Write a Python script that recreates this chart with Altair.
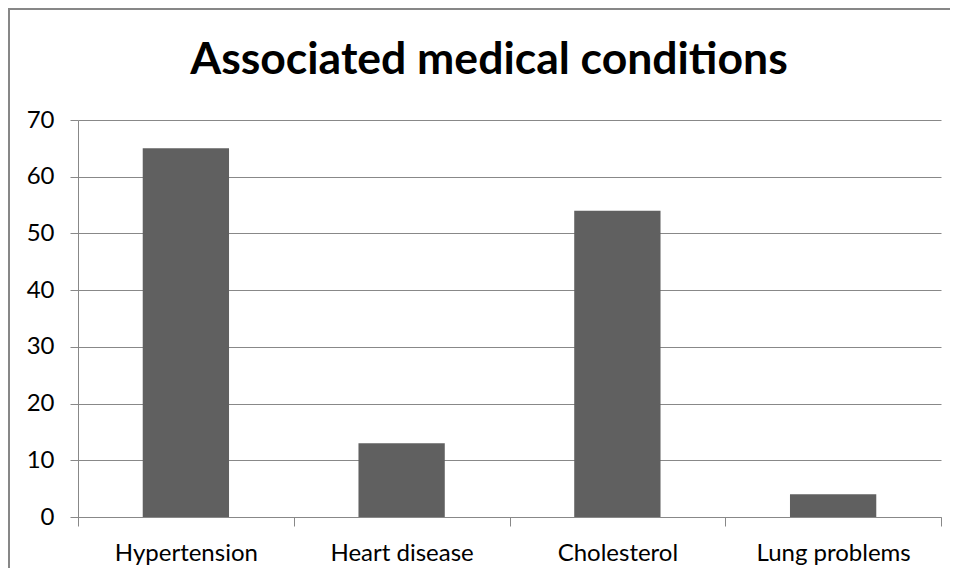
import altair as alt
import pandas as pd

categories = ["Hypertension", "Heart disease", "Cholesterol", "Lung problems"]
values = [65, 13, 54, 4]
y_ticks = [0, 10, 20, 30, 40, 50, 60, 70]
title_text = "Associated medical conditions"

df = pd.DataFrame({"condition": categories, "count": values})

FONT = "Lato"
GRID = "#888888"

bars = alt.Chart(df).mark_bar(color="#606060", width=alt.RelativeBandSize(0.4)).encode(
    x=alt.X(
        "condition:N",
        sort=categories,
        title=None,
        scale=alt.Scale(paddingInner=0, paddingOuter=0),
        axis=alt.Axis(
            labelAngle=0,
            labelFont=FONT,
            labelFontSize=24,
            labelColor="#000000",
            labelPadding=15,
            tickBand="extent",
            tickSize=9,
            tickColor=GRID,
            domainColor=GRID,
            grid=False,
        ),
    ),
    y=alt.Y(
        "count:Q",
        title=None,
        scale=alt.Scale(domain=[0, 70]),
        axis=alt.Axis(
            values=y_ticks,
            labelFont=FONT,
            labelFontSize=24,
            labelColor="#000000",
            labelPadding=16,
            tickSize=8,
            tickColor=GRID,
            domainColor=GRID,
            gridColor=GRID,
        ),
    ),
)

title_mark = alt.Chart().mark_text(
    font=FONT, fontSize=44.5, fontWeight="bold", color="#000000",
    align="center", baseline="alphabetic",
).encode(
    x=alt.value(411), y=alt.value(-46), text=alt.value(title_text)
)

border_left = alt.Chart().mark_rule(color="#878787", strokeWidth=2, clip=False).encode(
    x=alt.value(-69), y=alt.value(-112), y2=alt.value(470)
)
border_top = alt.Chart().mark_rule(color="#878787", strokeWidth=2, clip=False).encode(
    x=alt.value(-70), x2=alt.value(900), y=alt.value(-111)
)

chart = alt.layer(bars, title_mark, border_left, border_top).properties(
    width=863,
    height=397,
    background="white",
    autosize=alt.AutoSizeParams(type="none"),
    padding={"left": 70, "top": 112, "right": 9, "bottom": 51},
).configure_view(stroke="transparent", strokeWidth=0)

chart.save("out.html", embed_options={"renderer": "svg", "actions": False})
